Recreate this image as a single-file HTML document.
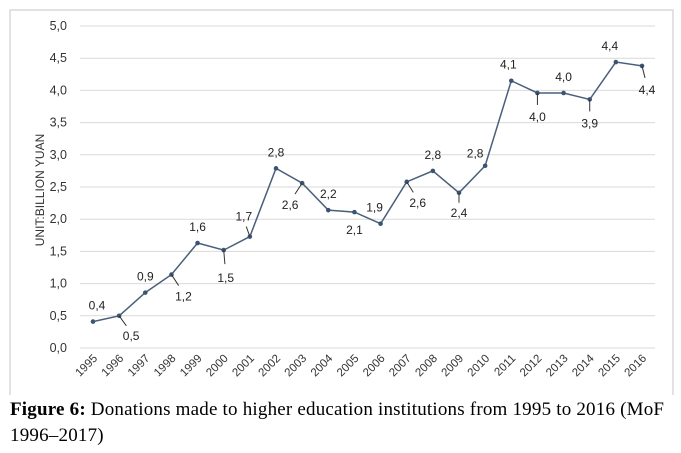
<!DOCTYPE html>
<html><head><meta charset="utf-8"><style>
body{margin:0;background:#fff;width:681px;height:453px;overflow:hidden}
svg text{font-family:"Liberation Sans",Arial,sans-serif}
.cap{position:absolute;left:10px;top:397px;width:670px;font-family:"Liberation Serif","Times New Roman",serif;font-size:19px;line-height:26px;color:#000;letter-spacing:0.2px;white-space:nowrap}
</style></head><body>
<svg id="chart" width="681" height="395" style="position:absolute;left:0;top:0">
<rect x="10" y="10" width="663" height="400" fill="none" stroke="#d9d9d9" stroke-width="1.5"/>
<g id="grid"></g><g id="yt"></g><g id="xt"></g><g id="series"></g><g id="labels"></g>
<text transform="translate(44,190) rotate(-90)" text-anchor="middle" font-size="12" fill="#333">UNIT:BILLION YUAN</text>
</svg>
<div class="cap"><b>Figure 6:</b> Donations made to higher education institutions from 1995 to 2016 (MoF<br>1996–2017)</div>
<script>
const years=["1995","1996","1997","1998","1999","2000","2001","2002","2003","2004","2005","2006","2007","2008","2009","2010","2011","2012","2013","2014","2015","2016"];
const values=[0.41,0.50,0.86,1.14,1.63,1.52,1.73,2.79,2.56,2.14,2.11,1.93,2.58,2.75,2.41,2.83,4.15,3.96,3.96,3.86,4.44,4.38];
const printed=["0,4","0,5","0,9","1,2","1,6","1,5","1,7","2,8","2,6","2,2","2,1","1,9","2,6","2,8","2,4","2,8","4,1","4,0","4,0","3,9","4,4","4,4"];
const yTicks=[0,0.5,1,1.5,2,2.5,3,3.5,4,4.5,5];
const yTickLabels=["0,0","0,5","1,0","1,5","2,0","2,5","3,0","3,5","4,0","4,5","5,0"];
const lblOff=[[4,-16,0],[12,20,1],[0,-16,0],[12,22,1],[0,-16,0],[2,28,1],[-6,-20,1],[0,-16,0],[-12,22,1],[0,-16,0],[0,18,0],[-6,-16,0],[11,21,1],[0,-16,0],[0,20,1],[-10,-12,0],[-3,-16,0],[0,24,1],[0,-16,0],[0,24,1],[-6,-16,0],[5,24,1]];
const NS="http://www.w3.org/2000/svg";
const x0=93,x1=642,yb=348,yTop=26;
const xs=i=>x0+i*(x1-x0)/(years.length-1);
const ys=v=>yb-(v/5)*(yb-yTop);
function mk(t,a,p){const e=document.createElementNS(NS,t);for(const k in a)e.setAttribute(k,a[k]);p.appendChild(e);return e;}
const G=document.getElementById('grid'),YT=document.getElementById('yt'),XT=document.getElementById('xt'),S=document.getElementById('series'),L=document.getElementById('labels');
yTicks.forEach((v,i)=>{
 const l=mk('line',{x1:80,x2:655,y1:ys(v),y2:ys(v),stroke:'#d9d9d9','stroke-width':1},G);
 
 
 const t=mk('text',{x:67,y:ys(v)+4,'text-anchor':'end','font-size':12.5,fill:'#333'},YT);
 t.textContent=yTickLabels[i];
 
 
});
years.forEach((y,i)=>{
 const t=mk('text',{transform:`translate(${xs(i)+5},${yb+11}) rotate(-45)`,'text-anchor':'end','font-size':11.5,fill:'#333'},XT);
 t.textContent=y;
 
 
});
const pl=mk('polyline',{points:values.map((v,i)=>xs(i)+','+ys(v)).join(' '),fill:'none',stroke:'#4a5f7a','stroke-width':1.5},S);


values.forEach((v,i)=>{
 const c=mk('circle',{cx:xs(i),cy:ys(v),r:2.3,fill:'#3c5474'},S);
 
 
 const [dx,dy,lead]=lblOff[i];
 const px=xs(i),py=ys(v);
 if(lead){
  const ll=mk('line',{x1:px,y1:py,x2:px+dx*0.6,y2:py+dy*0.5,stroke:'#333','stroke-width':1},L);
  
  
 }
 const t=mk('text',{x:px+dx,y:py+dy+4,'text-anchor':'middle','font-size':12,fill:'#222'},L);
 t.textContent=printed[i];
 
 
});
</script>
</body></html>
